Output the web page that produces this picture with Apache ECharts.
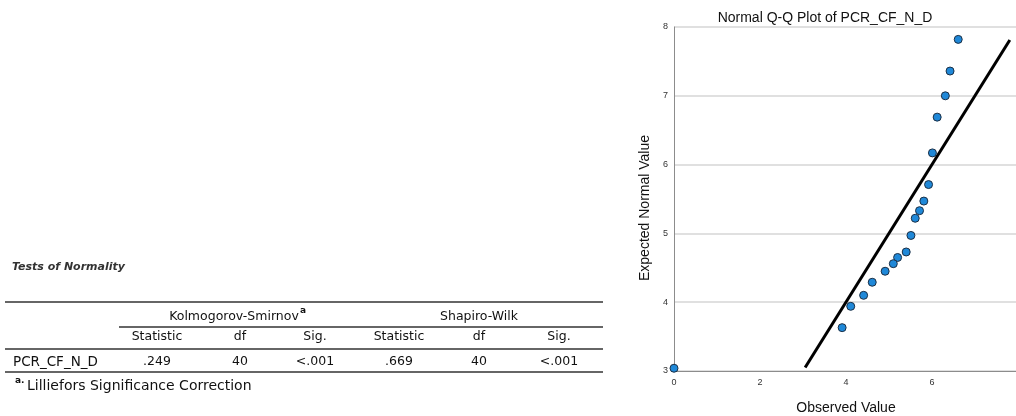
<!DOCTYPE html>
<html>
<head>
<meta charset="utf-8">
<script src="https://cdn.jsdelivr.net/npm/echarts@6/dist/echarts.min.js"></script>
<style>
  html, body { margin: 0; padding: 0; background: #fff; }
  #main { width: 1016px; height: 416px; }
</style>
</head>
<body>
<div id="main"></div>
<script>
// Q-Q plot data
const observedValues = [6.61, 6.42, 6.31, 6.12, 6.01, 5.92, 5.81, 5.71, 5.61, 5.51, 5.40, 5.20, 5.10, 4.91, 4.61, 4.41, 4.11, 3.91, 0];
const expectedValues = [7.82, 7.36, 7.00, 6.69, 6.17, 5.71, 5.47, 5.33, 5.22, 4.97, 4.73, 4.65, 4.56, 4.45, 4.29, 4.10, 3.94, 3.63, 3.04];
const refLineEnds = [3.05, 7.81];

// Tests of Normality table
const testGroups = ['Kolmogorov-Smirnov', 'Shapiro-Wilk'];
const columnNames = ['Statistic', 'df', 'Sig.', 'Statistic', 'df', 'Sig.'];
const rowName = 'PCR_CF_N_D';
const rowValues = ['.249', '40', '<.001', '.669', '40', '<.001'];
const footnote = 'Lilliefors Significance Correction';

const chart = echarts.init(document.getElementById('main'));

const tableFont = '12.5px "DejaVu Sans"';
const colX = [157, 240, 315, 399, 479, 559];
const groupX = [234, 479];

function txt(text, x, y, opts) {
  return {
    type: 'text',
    silent: true,
    style: Object.assign({
      text: text, x: x, y: y,
      font: tableFont,
      fill: '#111',
      textAlign: 'center',
      textVerticalAlign: 'middle'
    }, opts || {})
  };
}
function hline(x1, x2, y) {
  return {
    type: 'line',
    silent: true,
    shape: { x1: x1, y1: y, x2: x2, y2: y },
    style: { stroke: '#333', lineWidth: 1.6 }
  };
}

const graphics = [
  txt('Tests of Normality', 12, 267, { textAlign: 'left', font: 'italic bold 11px "DejaVu Sans"', fill: '#333' }),
  hline(5, 603, 302),
  hline(119, 603, 327),
  hline(5, 603, 349),
  hline(5, 603, 372),
  txt(testGroups[0], groupX[0], 317),
  txt('a', 300, 311, { textAlign: 'left', font: 'bold 9px "DejaVu Sans"' }),
  txt(testGroups[1], groupX[1], 317),
  txt(rowName, 13, 362, { textAlign: 'left', font: '13.5px "DejaVu Sans"' }),
  txt('a.', 15, 381, { textAlign: 'left', font: 'bold 9px "DejaVu Sans"' }),
  txt(footnote, 27, 386, { textAlign: 'left', font: '14px "DejaVu Sans"' })
];
// y axis title, rotated to read bottom-up
const yTitle = txt('Expected Normal Value', 0, 0, { font: '14px "Liberation Sans"' });
yTitle.x = 645;
yTitle.y = 208;
yTitle.rotation = Math.PI / 2;
graphics.push(yTitle);
columnNames.forEach((c, i) => graphics.push(txt(c, colX[i], 337)));
rowValues.forEach((v, i) => graphics.push(txt(v, colX[i], 362)));

const option = {
  animation: false,
  backgroundColor: '#fff',
  title: {
    text: 'Normal Q-Q Plot of PCR_CF_N_D',
    left: 820,
    top: 6,
    textAlign: 'center',
    textStyle: { fontFamily: 'Liberation Sans', fontSize: 14, fontWeight: 'normal', color: '#111' }
  },
  grid: { left: 674, right: -2, top: 27, bottom: 45, outerBoundsMode: 'none' },
  xAxis: {
    type: 'value',
    min: 0, max: 8, interval: 2,
    name: 'Observed Value',
    nameLocation: 'middle',
    nameGap: 30,
    nameTextStyle: { fontFamily: 'Liberation Sans', fontSize: 14, color: '#111' },
    axisLine: { show: true, lineStyle: { color: '#8c8c8c', width: 1 } },
    axisTick: { show: false },
    splitLine: { show: false },
    axisLabel: {
      fontFamily: 'Liberation Sans', fontSize: 9, color: '#333', margin: 7,
      formatter: v => (v >= 8 ? '' : String(v))
    }
  },
  yAxis: {
    type: 'value',
    min: 3, max: 8, interval: 1,
    axisLine: { show: true, lineStyle: { color: '#8c8c8c', width: 1 } },
    axisTick: { show: false },
    splitLine: { show: true, lineStyle: { color: '#d6d6d6', width: 1.5 } },
    axisLabel: { fontFamily: 'Liberation Sans', fontSize: 9, color: '#333', margin: 6 }
  },
  series: [
    {
      type: 'line',
      data: refLineEnds.map(v => [v, v]),
      symbol: 'none',
      lineStyle: { color: '#000', width: 3 },
      z: 2
    },
    {
      type: 'scatter',
      data: observedValues.map((x, i) => [x, expectedValues[i]]),
      symbolSize: 8,
      itemStyle: { color: '#1f88d8', borderColor: '#1b2f45', borderWidth: 1, opacity: 1 },
      z: 3
    }
  ],
  graphic: graphics
};

chart.setOption(option);
</script>
</body>
</html>
